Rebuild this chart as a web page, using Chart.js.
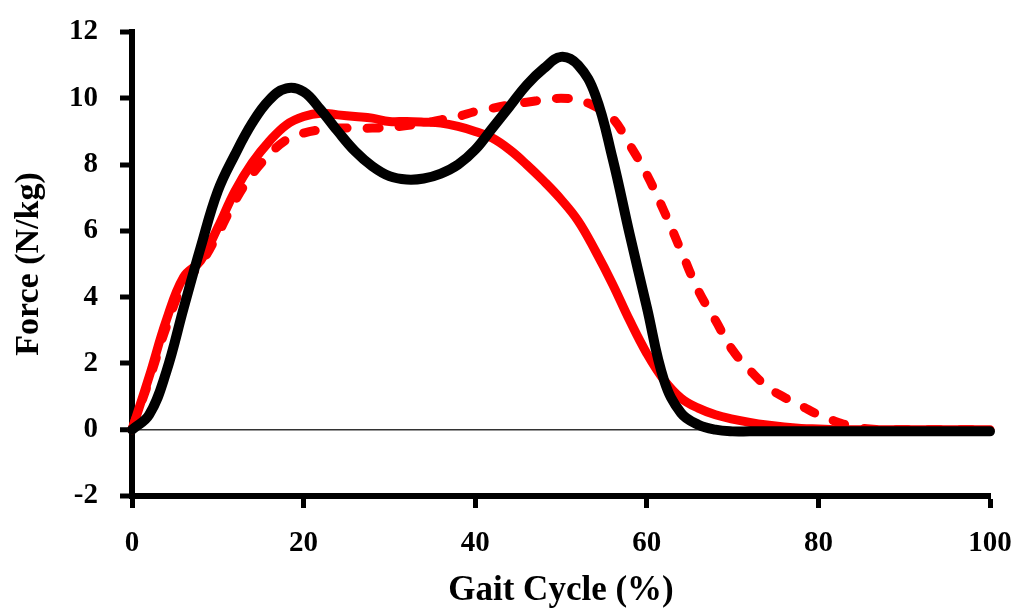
<!DOCTYPE html>
<html>
<head>
<meta charset="utf-8">
<script src="https://cdn.jsdelivr.net/npm/chart.js@4/dist/chart.umd.min.js"></script>
<style>
    body { margin: 0; background: #fff; }
</style>
</head>
<body>
<canvas id="gait-chart" width="1022" height="608"></canvas>
<script>
// 步态周期 (%)
const gaitCycle = [0, 2, 4, 6, 8, 10, 12, 14, 16, 18, 20, 22, 24, 26, 28, 30, 32, 34, 36, 38, 40,
    42, 44, 46, 48, 50, 52, 54, 56, 58, 60, 62, 64, 66, 68, 70, 72, 74, 76, 78, 80,
    82, 84, 86, 88, 90, 92, 94, 96, 98, 100, 101];

// 黑色实线
const blackForce = [0, 0.45, 1.75, 3.65, 5.5, 7.2, 8.3, 9.25, 9.95, 10.3, 10.2, 9.65, 9.0, 8.4, 7.95, 7.65, 7.55, 7.58, 7.73, 8.0, 8.45,
    9.1, 9.75, 10.4, 10.9, 11.25, 11.0, 10.1, 8.2, 5.9, 3.7, 1.5, 0.5, 0.15, 0, -0.05, -0.05, -0.05, -0.05, -0.05, -0.05,
    -0.05, -0.05, -0.05, -0.05, -0.05, -0.05, -0.05, -0.05, -0.05, -0.05, -0.05];

// 红色实线
const redSolidForce = [0, 1.6, 3.3, 4.6, 5.1, 6.1, 7.2, 8.05, 8.7, 9.2, 9.45, 9.55, 9.5, 9.45, 9.4, 9.3, 9.3, 9.28, 9.25, 9.15, 9.0,
    8.8, 8.45, 8.0, 7.5, 6.95, 6.3, 5.4, 4.4, 3.3, 2.3, 1.5, 0.95, 0.65, 0.45, 0.32, 0.22, 0.14, 0.08, 0.04, 0.02,
    0, 0, 0, 0, 0, 0, 0, 0, 0, 0, 0];

// 红色虚线
const redDashForce = [0, 1.5, 3.1, 4.4, 5.0, 5.9, 6.9, 7.7, 8.3, 8.75, 8.95, 9.05, 9.1, 9.1, 9.1, 9.12, 9.18, 9.25, 9.35, 9.45, 9.6,
    9.7, 9.8, 9.88, 9.95, 10.0, 9.95, 9.75, 9.4, 8.6, 7.7, 6.6, 5.4, 4.2, 3.3, 2.4, 1.8, 1.3, 0.98, 0.72, 0.45,
    0.25, 0.1, 0.02, 0, 0, 0, 0, 0, 0, 0, 0];

const yTicks = [-2, 0, 2, 4, 6, 8, 10, 12];
const xTicks = [0, 20, 40, 60, 80, 100];

const toPoints = (values) => gaitCycle.map((x, i) => ({ x: x, y: values[i] }));

const serifFont = "'Liberation Serif', 'Times New Roman', serif";

const ctx = document.getElementById('gait-chart').getContext('2d');
new Chart(ctx, {
    type: 'line',
    data: {
        datasets: [
            {
                label: 'black',
                data: toPoints(blackForce),
                borderColor: '#000000',
                borderWidth: 10,
                borderCapStyle: 'round',
                pointRadius: 0,
                tension: 0.4,
                clip: false
            },
            {
                label: 'red dashed',
                data: toPoints(redDashForce),
                borderColor: '#ff0000',
                borderWidth: 9,
                borderDash: [12, 20],
                borderCapStyle: 'round',
                pointRadius: 0,
                tension: 0.4,
                clip: false
            },
            {
                label: 'red solid',
                data: toPoints(redSolidForce),
                borderColor: '#ff0000',
                borderWidth: 9,
                borderCapStyle: 'round',
                pointRadius: 0,
                tension: 0.4,
                clip: false
            }
        ]
    },
    options: {
        responsive: false,
        animation: false,
        layout: {
            padding: { top: 32, right: 32, bottom: 0, left: 0 }
        },
        plugins: {
            legend: { display: false },
            tooltip: { enabled: false }
        },
        scales: {
            x: {
                type: 'linear',
                min: 0,
                max: 100,
                afterFit: (scale) => {
                    scale.height = 112;
                    scale.paddingLeft = 0;
                    scale.paddingRight = 0;
                },
                afterBuildTicks: (scale) => { scale.ticks = xTicks.map(v => ({ value: v })); },
                border: { display: true, color: '#000', width: 6 },
                grid: {
                    drawOnChartArea: false,
                    drawTicks: true,
                    tickLength: 12,
                    tickWidth: 5,
                    tickColor: '#000'
                },
                ticks: {
                    color: '#000',
                    padding: 18,
                    font: { family: serifFont, size: 29, weight: 'bold' }
                },
                title: {
                    display: true,
                    text: 'Gait Cycle (%)',
                    color: '#000',
                    padding: 0,
                    font: { family: serifFont, size: 35, weight: 'bold', lineHeight: 1 }
                }
            },
            y: {
                min: -2,
                max: 12,
                afterFit: (scale) => {
                    scale.width = 132;
                    scale.paddingTop = 0;
                    scale.paddingBottom = 0;
                },
                afterBuildTicks: (scale) => { scale.ticks = yTicks.map(v => ({ value: v })); },
                border: { display: true, color: '#000', width: 6 },
                grid: {
                    drawOnChartArea: true,
                    drawTicks: true,
                    color: (c) => (c.tick && c.tick.value === 0 ? '#333' : 'transparent'),
                    lineWidth: (c) => (c.tick && c.tick.value === 0 ? 1.5 : 0),
                    tickLength: 12,
                    tickWidth: 5,
                    tickColor: '#000'
                },
                ticks: {
                    color: '#000',
                    padding: 22,
                    font: { family: serifFont, size: 29, weight: 'bold' }
                },
                title: {
                    display: true,
                    text: 'Force (N/kg)',
                    color: '#000',
                    padding: { top: 12 },
                    font: { family: serifFont, size: 34, weight: 'bold', lineHeight: 1 }
                }
            }
        }
    }
});
</script>
</body>
</html>
